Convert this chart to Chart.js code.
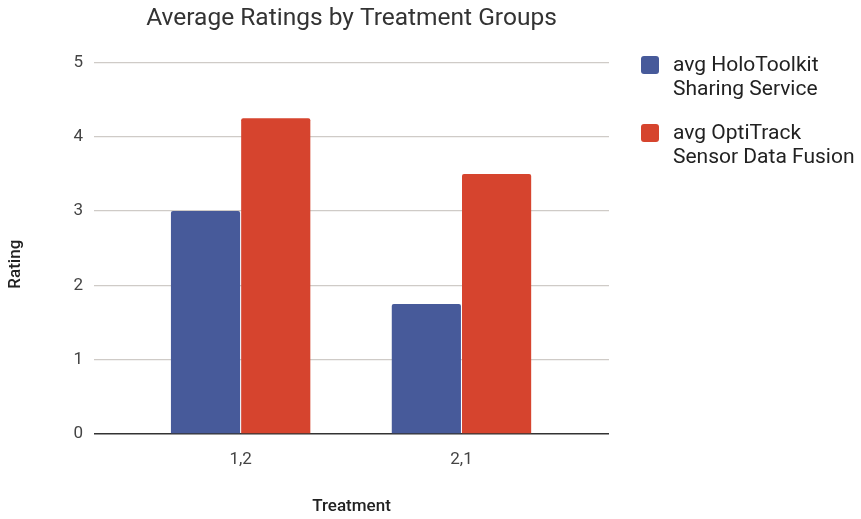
<!DOCTYPE html>
<html>
<head>
<meta charset="utf-8">
<script src="https://cdn.jsdelivr.net/npm/chart.js@4"></script>
<style>
  html, body { margin: 0; padding: 0; background: #fff; }
  #wrap { position: relative; width: 861px; height: 519px; }
  #legend { position: absolute; left: 641px; top: 52px; font-family: Roboto, sans-serif; font-size: 21px; color: #222; line-height: 24px; }
  .item { position: relative; padding-left: 32px; margin-bottom: 20px; }
  .swatch { position: absolute; left: 0; top: 4px; width: 18px; height: 18px; border-radius: 3px; }
</style>
</head>
<body>
<div id="wrap">
  <canvas id="chart" width="861" height="519"></canvas>
  <div id="legend"></div>
</div>
<script>
// Treatment groups and average ratings per system
const categories = ['1,2', '2,1'];
const holoToolkit = [3, 1.75];
const optiTrack = [4.25, 3.5];
const seriesLabels = [
  ['avg HoloToolkit', 'Sharing Service'],
  ['avg OptiTrack', 'Sensor Data Fusion']
];
const seriesColors = ['#475A9A', '#D6442E'];
const yAxisTitle = 'Rating';

const toPoints = (values) => categories.map((_, i) => ({ x: i, y: values[i] }));

const datasets = [holoToolkit, optiTrack].map((values, k) => ({
  label: seriesLabels[k].join(' '),
  data: toPoints(values),
  backgroundColor: seriesColors[k],
  borderRadius: 2,
  categoryPercentage: 0.636,
  barPercentage: 0.985
}));

// HTML legend with two-line labels
const legend = document.getElementById('legend');
seriesLabels.forEach((lines, k) => {
  const item = document.createElement('div');
  item.className = 'item';
  const sw = document.createElement('span');
  sw.className = 'swatch';
  sw.style.background = seriesColors[k];
  item.appendChild(sw);
  lines.forEach((t, j) => {
    if (j) item.appendChild(document.createElement('br'));
    item.appendChild(document.createTextNode(t));
  });
  legend.appendChild(item);
});

Chart.defaults.font.family = 'Roboto, sans-serif';

// Vertical axis title, set a little below the middle of the plot
const yTitlePlugin = {
  id: 'yTitle',
  afterDraw(chart) {
    const { ctx, chartArea, scales } = chart;
    ctx.save();
    ctx.translate(scales.y.left + 16, (chartArea.top + chartArea.bottom) / 2 + 16);
    ctx.rotate(-Math.PI / 2);
    ctx.font = '500 17px Roboto, sans-serif';
    ctx.fillStyle = '#222';
    ctx.textAlign = 'center';
    ctx.textBaseline = 'middle';
    ctx.fillText(yAxisTitle, 0, 0);
    ctx.restore();
  }
};

new Chart(document.getElementById('chart'), {
  type: 'bar',
  data: { datasets },
  plugins: [yTitlePlugin],
  options: {
    responsive: false,
    animation: false,
    layout: { padding: { left: 0, right: 252, top: 0, bottom: 0 } },
    plugins: {
      legend: { display: false },
      tooltip: { enabled: false },
      title: {
        display: true,
        fullSize: false,
        text: 'Average Ratings by Treatment Groups',
        color: '#333',
        font: { size: 24.5, weight: 'normal' },
        padding: { top: 4, bottom: 29 }
      }
    },
    scales: {
      x: {
        type: 'linear',
        offset: false,
        bounds: 'data',
        min: -0.664,
        max: 1.668,
        grid: { display: false, offset: false },
        border: { display: false },
        afterBuildTicks: (scale) => { scale.ticks = categories.map((_, i) => ({ value: i })); },
        afterFit: (scale) => { scale.height = 85; },
        ticks: {
          autoSkip: false,
          padding: 8,
          color: '#444',
          font: { size: 17 },
          callback: (v) => categories[v] ?? ''
        },
        title: {
          display: true,
          text: 'Treatment',
          color: '#222',
          font: { size: 17, weight: 500 },
          padding: { top: 0, bottom: 2 }
        }
      },
      y: {
        min: 0,
        max: 5,
        afterFit: (scale) => { scale.width = 94; },
        border: { display: false },
        grid: {
          drawTicks: false,
          color: (ctx) => ctx.tick && ctx.tick.value === 0 ? '#333' : '#CFCBC7',
          lineWidth: (ctx) => ctx.tick && ctx.tick.value === 0 ? 1.6 : 1.2
        },
        ticks: {
          stepSize: 1,
          padding: 11,
          color: '#444',
          font: { size: 17 }
        },
        title: { display: false }
      }
    }
  }
});
</script>
</body>
</html>
